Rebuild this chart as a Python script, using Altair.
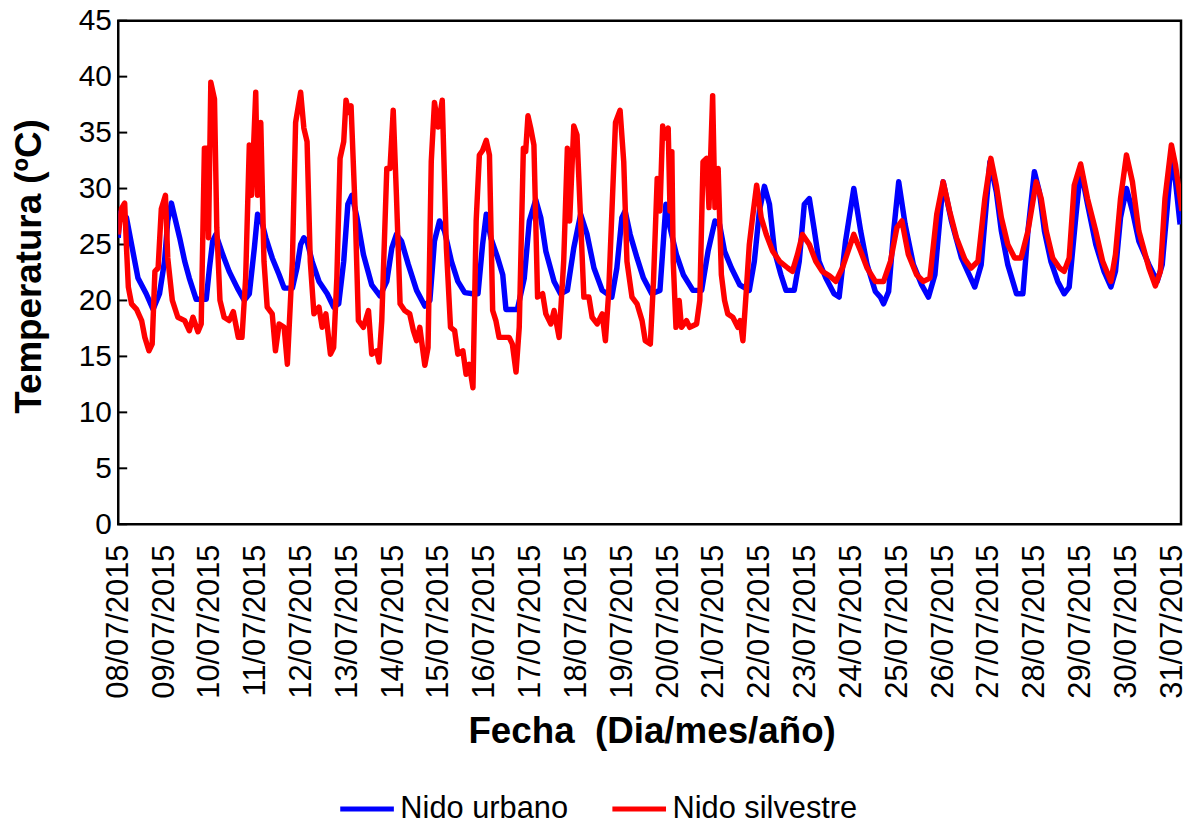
import altair as alt
import pandas as pd

FONT = "Liberation Sans"

SERIES = ["Nido urbano", "Nido silvestre"]
COLORS = ["#0000FF", "#FF0000"]

FECHAS = ["08/07/2015", "09/07/2015", "10/07/2015", "11/07/2015", "12/07/2015",
          "13/07/2015", "14/07/2015", "15/07/2015", "16/07/2015", "17/07/2015",
          "18/07/2015", "19/07/2015", "20/07/2015", "21/07/2015", "22/07/2015",
          "23/07/2015", "24/07/2015", "25/07/2015", "26/07/2015", "27/07/2015",
          "28/07/2015", "29/07/2015", "30/07/2015", "31/07/2015"]
Y_TICKS = [0, 5, 10, 15, 20, 25, 30, 35, 40, 45]

# (days since 08/07/2015 00:00, temperature in ºC)
URBANO = [
    (0.00, 25.6), (0.03, 27.8), (0.18, 27.4), (0.36, 23.5), (0.43, 22.0), (0.61, 20.6),
    (0.76, 19.2), (0.90, 20.6), (1.01, 23.5), (1.08, 27.1), (1.16, 28.7),
    (1.34, 25.6), (1.45, 23.5), (1.55, 22.0), (1.70, 20.1), (1.92, 20.1), (1.99, 22.9),
    (2.06, 25.3), (2.13, 25.9), (2.28, 24.1), (2.42, 22.6), (2.60, 21.1), (2.75, 20.0),
    (2.86, 20.6), (2.97, 24.7), (3.04, 27.7), (3.11, 27.4), (3.22, 25.6), (3.36, 23.8),
    (3.51, 22.3), (3.62, 21.1), (3.80, 21.1),
    (3.90, 22.9), (3.98, 25.0), (4.05, 25.6), (4.12, 25.3), (4.23, 23.5), (4.38, 21.7),
    (4.56, 20.6), (4.70, 19.4), (4.81, 19.7), (4.92, 23.5), (5.01, 28.6), (5.10, 29.4),
    (5.21, 27.4), (5.35, 24.1), (5.53, 21.4), (5.71, 20.4), (5.86, 21.7), (5.97, 24.7),
    (6.07, 25.9), (6.18, 25.3), (6.33, 23.2), (6.51, 20.9), (6.69, 19.5), (6.80, 20.0),
    (6.90, 25.3), (7.01, 27.1), (7.12, 26.2), (7.27, 23.5), (7.41, 21.7), (7.56, 20.7),
    (7.74, 20.6),
    (7.85, 20.6), (7.95, 25.0), (8.03, 27.7), (8.13, 25.6), (8.28, 23.8), (8.39, 22.3),
    (8.46, 19.2), (8.71, 19.2), (8.86, 22.0), (8.97, 27.1), (9.11, 29.0), (9.22, 27.4),
    (9.33, 24.4), (9.51, 21.7), (9.65, 20.6), (9.80, 20.9), (9.94, 24.7), (10.09, 27.7),
    (10.23, 25.9), (10.38, 22.9), (10.56, 20.9), (10.77, 20.3), (10.88, 22.9), (10.99, 27.4),
    (11.06, 28.0), (11.17, 25.9), (11.32, 23.8), (11.46, 22.0), (11.64, 20.6),
    (11.82, 20.9), (11.89, 25.0), (11.95, 28.6), (12.04, 26.5), (12.18, 24.1), (12.33, 22.3),
    (12.54, 20.9), (12.73, 20.9), (12.87, 24.4), (13.02, 27.1), (13.12, 26.8), (13.23, 24.4),
    (13.38, 22.9), (13.56, 21.4), (13.77, 20.9), (13.88, 23.5), (13.99, 28.0), (14.10, 30.2),
    (14.21, 28.6), (14.32, 24.4), (14.46, 22.3), (14.57, 20.9), (14.75, 20.9), (14.86, 23.5),
    (14.97, 28.6), (15.08, 29.1), (15.18, 26.5), (15.29, 23.5), (15.44, 22.0), (15.62, 20.6),
    (15.73, 20.3), (15.87, 25.3), (16.05, 30.0), (16.20, 26.2), (16.34, 23.2), (16.52, 20.8),
    (16.63, 20.3), (16.70, 19.7), (16.81, 20.8), (16.92, 26.2), (17.03, 30.6), (17.17, 26.8),
    (17.35, 23.2), (17.53, 21.4), (17.68, 20.3), (17.82, 22.3), (18.00, 30.6), (18.18, 27.1),
    (18.40, 23.8), (18.69, 21.2), (18.83, 23.2), (19.02, 32.4), (19.16, 29.7), (19.27, 26.2),
    (19.41, 23.2), (19.60, 20.6), (19.74, 20.6), (19.85, 26.2), (19.99, 31.5), (20.10, 29.7),
    (20.21, 26.2), (20.35, 23.5), (20.50, 21.7), (20.64, 20.6), (20.75, 21.2), (20.90, 27.7),
    (21.00, 31.8), (21.15, 28.6), (21.33, 25.0), (21.51, 22.6), (21.66, 21.2), (21.76, 22.6),
    (21.87, 27.4), (22.00, 30.0), (22.13, 28.0), (22.27, 25.3), (22.49, 23.2), (22.67, 21.7),
    (22.78, 23.2), (22.89, 28.3), (22.98, 32.7), (23.07, 30.6), (23.17, 26.8),
]

SILVESTRE = [
    (0.00, 25.9), (0.07, 28.2), (0.14, 28.7), (0.18, 24.7), (0.22, 21.2), (0.29, 19.7),
    (0.40, 19.2), (0.51, 18.2), (0.58, 16.7), (0.67, 15.5), (0.74, 16.1), (0.80, 22.6),
    (0.87, 22.9), (0.94, 28.2), (1.03, 29.4), (1.08, 23.8), (1.18, 20.0), (1.30, 18.5),
    (1.45, 18.2), (1.55, 17.3), (1.63, 18.5), (1.74, 17.2), (1.81, 17.9), (1.88, 33.6),
    (1.93, 33.6), (1.97, 25.6), (2.02, 39.5), (2.10, 38.0), (2.15, 26.5), (2.22, 20.0),
    (2.31, 18.5), (2.42, 18.2), (2.51, 19.0), (2.62, 16.7), (2.70, 16.7), (2.78, 22.0),
    (2.86, 33.9), (2.91, 29.4), (3.00, 38.6), (3.04, 29.4), (3.11, 35.9), (3.18, 23.5),
    (3.25, 19.4), (3.36, 18.8), (3.43, 15.5), (3.51, 17.9), (3.62, 17.6), (3.69, 14.3),
    (3.80, 23.5), (3.87, 35.9), (3.98, 38.6), (4.05, 35.4), (4.12, 34.2), (4.19, 23.5),
    (4.27, 18.8), (4.38, 19.4), (4.45, 17.6), (4.53, 18.8), (4.63, 15.2), (4.70, 15.8),
    (4.77, 22.0), (4.84, 32.7), (4.92, 34.2), (4.97, 37.9), (5.03, 36.8), (5.08, 37.4),
    (5.17, 28.0), (5.24, 18.2), (5.35, 17.6), (5.46, 19.1), (5.53, 15.2), (5.64, 15.5),
    (5.69, 14.5), (5.75, 18.2), (5.86, 31.8), (5.93, 31.8), (6.00, 37.0), (6.07, 29.4),
    (6.15, 19.7), (6.25, 19.1), (6.36, 18.8), (6.44, 17.3), (6.51, 16.4), (6.58, 17.6),
    (6.69, 14.2), (6.76, 15.8), (6.83, 32.4), (6.90, 37.7), (6.98, 35.5), (7.07, 37.9),
    (7.16, 24.7), (7.25, 17.6), (7.34, 17.3), (7.41, 15.2), (7.52, 15.5), (7.59, 13.4),
    (7.66, 14.3), (7.74, 12.2), (7.81, 27.1), (7.88, 33.0), (7.95, 33.4), (8.03, 34.3),
    (8.10, 33.0), (8.17, 19.1), (8.24, 18.2), (8.31, 16.7), (8.53, 16.7), (8.60, 16.1),
    (8.68, 13.6), (8.75, 17.6), (8.84, 33.6), (8.89, 33.3), (8.94, 36.5), (9.00, 35.4),
    (9.07, 33.9), (9.15, 20.3), (9.26, 20.6), (9.33, 18.8), (9.44, 17.9), (9.51, 19.1),
    (9.62, 16.7), (9.72, 23.5), (9.80, 33.6), (9.85, 27.1), (9.94, 35.6), (10.01, 34.8),
    (10.09, 27.1), (10.16, 20.3), (10.27, 20.3), (10.34, 18.5), (10.45, 17.9), (10.56, 18.8),
    (10.63, 16.4), (10.70, 20.6), (10.85, 35.9), (10.95, 37.0), (11.03, 32.4), (11.10, 23.5),
    (11.21, 20.3), (11.32, 19.7), (11.43, 18.2), (11.50, 16.4), (11.61, 16.1), (11.68, 21.8),
    (11.76, 30.9), (11.82, 28.0), (11.88, 35.6), (11.93, 34.5), (12.00, 35.4), (12.04, 28.0),
    (12.08, 33.3), (12.11, 23.5), (12.17, 17.6), (12.24, 20.0), (12.29, 17.6), (12.40, 18.2),
    (12.47, 17.6), (12.62, 17.9), (12.69, 20.0), (12.76, 32.4), (12.84, 32.7), (12.89, 28.3),
    (12.97, 38.3), (13.02, 28.3), (13.09, 31.8), (13.16, 22.3), (13.23, 20.0), (13.30, 18.8),
    (13.41, 18.5), (13.52, 17.6), (13.57, 18.2), (13.63, 16.4), (13.70, 20.6), (13.77, 25.0),
    (13.84, 27.4), (13.93, 30.3), (14.03, 27.4), (14.14, 25.9), (14.28, 24.4), (14.43, 23.5),
    (14.61, 22.9), (14.71, 22.6), (14.82, 24.1), (14.93, 25.9), (15.08, 25.0), (15.22, 23.5),
    (15.36, 22.6), (15.52, 22.2), (15.66, 21.7), (15.80, 22.9), (16.05, 25.9), (16.20, 24.4),
    (16.34, 22.9), (16.52, 21.7), (16.70, 21.7), (16.85, 23.5), (16.99, 26.5), (17.10, 27.1),
    (17.24, 24.1), (17.42, 22.3), (17.57, 21.7), (17.71, 22.0), (17.86, 27.7), (18.00, 30.6),
    (18.14, 28.0), (18.29, 25.6), (18.47, 23.7), (18.61, 22.9), (18.76, 23.5), (18.91, 29.1),
    (19.04, 32.7), (19.16, 30.3), (19.27, 27.4), (19.41, 25.0), (19.56, 23.8), (19.70, 23.8),
    (19.85, 26.2), (20.03, 30.6), (20.14, 29.1), (20.25, 26.2), (20.39, 23.8), (20.54, 22.9),
    (20.64, 22.6), (20.75, 23.8), (20.86, 30.3), (21.00, 32.2), (21.15, 29.1), (21.33, 26.2),
    (21.48, 23.5), (21.66, 21.7), (21.76, 24.1), (21.87, 29.1), (22.00, 33.0), (22.13, 30.6),
    (22.27, 26.2), (22.49, 22.9), (22.63, 21.3), (22.74, 22.6), (22.84, 29.1), (22.98, 33.9),
    (23.07, 32.1), (23.21, 28.0),
]

rows = [{"serie": SERIES[0], "dia": d, "temp": t} for d, t in URBANO]
rows += [{"serie": SERIES[1], "dia": d, "temp": t} for d, t in SILVESTRE]
df = pd.DataFrame(rows)
ticks_df = pd.DataFrame({"temp": Y_TICKS})

label_expr = "[" + ",".join("'" + f + "'" for f in FECHAS) + "][datum.value]"

x_enc = alt.X(
    "dia:Q",
    scale=alt.Scale(domain=[0, 23.19], nice=False, zero=False),
    axis=alt.Axis(
        values=list(range(len(FECHAS))), labelExpr=label_expr, labelAngle=270,
        labelFontSize=31, labelFont=FONT, labelColor="black", labelPadding=20,
        labelOverlap=False, labelFlush=False, labelBound=False,
        ticks=False, domain=False, grid=False,
        title="Fecha \u00a0(Dia/mes/año)", titleFont=FONT, titleFontSize=37,
        titleFontWeight="bold", titleColor="black",
        titleX=537, titleY=220, titleAlign="center", titleBaseline="alphabetic",
    ),
)

y_enc = alt.Y(
    "temp:Q",
    scale=alt.Scale(domain=[0, 45], nice=False, zero=True),
    axis=alt.Axis(
        values=Y_TICKS, labelFontSize=30, labelFont=FONT, labelColor="black",
        labelPadding=7, ticks=False, domain=False, grid=False,
        title="Temperatura (ºC)", titleFont=FONT, titleFontSize=37,
        titleFontWeight="bold", titleColor="black", titleAngle=270,
        titleX=-89, titleY=247, titleAlign="center", titleBaseline="middle",
    ),
)

color_enc = alt.Color(
    "serie:N",
    scale=alt.Scale(domain=SERIES, range=COLORS),
    legend=alt.Legend(
        orient="none", legendX=221, legendY=764, direction="horizontal", columns=2,
        title=None, labelFontSize=31, labelFont=FONT, labelColor="black",
        labelLimit=500, symbolType="stroke", symbolStrokeWidth=5, symbolSize=2916,
        columnPadding=34, labelOffset=4, padding=0,
    ),
)

tick_layer = alt.Chart(ticks_df).mark_rule(color="black", strokeWidth=2).encode(
    y=y_enc, x=alt.value(0), x2=alt.value(9)
)

blue = alt.Chart(df).transform_filter(alt.datum.serie == SERIES[0]).mark_line(
    strokeWidth=5.5, clip=True, strokeJoin="round"
).encode(x=x_enc, y=y_enc, color=color_enc, order="dia:Q")

red = alt.Chart(df).transform_filter(alt.datum.serie == SERIES[1]).mark_line(
    strokeWidth=5.5, clip=True, strokeJoin="round"
).encode(x=x_enc, y=y_enc, color=color_enc, order="dia:Q")

chart = alt.layer(tick_layer, blue, red).properties(
    width=1070, height=507,
    background="white",
    autosize=alt.AutoSizeParams(type="none"),
    padding={"left": 111, "top": 10, "right": 2, "bottom": 298},
).configure_view(stroke="black", strokeWidth=2.5)

chart.save("out.html", embed_options={"renderer": "svg", "actions": False})
